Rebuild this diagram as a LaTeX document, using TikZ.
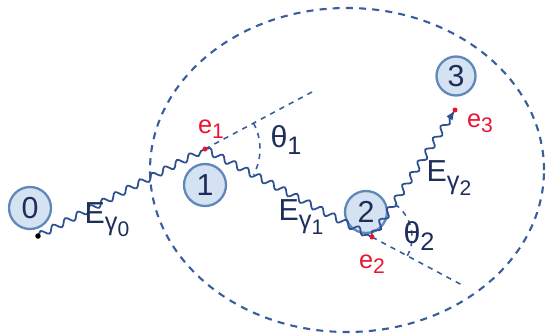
\documentclass[tikz,border=0pt]{standalone}
\usepackage{fontspec}
\setmainfont{Liberation Sans}
\usetikzlibrary{arrows.meta,decorations.pathmorphing}
\definecolor{navy}{RGB}{30,45,90}
\definecolor{wave}{RGB}{45,80,145}
\definecolor{ringline}{RGB}{95,135,185}
\definecolor{ringfill}{RGB}{212,226,241}
\definecolor{dashblue}{RGB}{55,95,155}
\definecolor{hitred}{RGB}{235,20,50}
\tikzset{
  site/.style={circle,draw=ringline,fill=ringfill,line width=1.3pt,minimum size=0.84cm,inner sep=0pt,font=\LARGE,text=navy},
  photon/.style={wave,line width=1pt,decorate,decoration={snake,amplitude=0.065cm,segment length=0.28cm,post length=0.06cm}},
  guide/.style={dashblue,line width=0.9pt,dash pattern=on 3pt off 3pt},
  lbl/.style={text=navy,font=\LARGE},
  hit/.style={text=hitred,font=\Large}
}
\newcommand{\Eg}[1]{E\raisebox{-0.45ex}{\Large γ\raisebox{-0.45ex}{\large #1}}}
\begin{document}
\begin{tikzpicture}[line width=0.9pt,>={Latex[length=2mm]}]
  \useasboundingbox (0,0) rectangle (10.92,6.66);
  % --- sites ---
  \node[site] (n0) at (0.60,2.50) {0};
  \node[site] (n1) at (4.10,2.96) {1};
  \node[site] (n2) at (7.32,2.42) {2};
  \node[site,minimum size=0.78cm] (n3) at (9.12,5.14) {3};
  % --- interaction points ---
  \coordinate (p0) at (0.76,1.94);
  \coordinate (e1) at (4.10,3.68);
  \coordinate (e2) at (7.44,1.92);
  \coordinate (e3) at (9.10,4.46);
  \coordinate (d1) at (6.24,4.82);
  \coordinate (d2) at (9.24,0.96);
  % big dashed ellipse
  \draw[guide,line width=1.2pt,dash pattern=on 4pt off 3.5pt] (6.94,3.26) ellipse (3.94 and 3.24);
  % --- photons ---
  \draw[photon] (p0) -- (e1);
  \draw[photon] (e1) -- (e2);
  \draw[photon,decoration={post length=0.18cm},->] (e2) -- (e3);
  \fill[black] (p0) circle(0.055);
  % --- angles ---
  \draw[guide] (e1) -- (d1);
  \draw[guide] (e2) -- (d2);
  \draw[guide] ([shift=(28:1.1)]e1) arc (28:-28:1.1);
  \draw[guide] ([shift=(55:0.8)]e2) arc (55:-28:0.8);
  \node[lbl] (t1) at (5.72,3.86) {θ\raisebox{-0.45ex}{\Large 1}};
  \node[lbl] (t2) at (8.38,1.94) {θ\raisebox{-0.45ex}{\Large 2}};
  % --- energies ---
  \node[lbl] (g0) at (2.14,2.26) {\Eg{0}};
  \node[lbl] (g1) at (6.02,2.32) {\Eg{1}};
  \node[lbl] (g2) at (8.98,3.10) {\Eg{2}};
  % --- hits ---
  \fill[hitred] (e1) circle(0.05);
  \fill[hitred] (e2) circle(0.05);
  \fill[hitred] (e3) circle(0.05);
  \node[hit] (h1) at (4.22,4.08) {e\raisebox{-0.4ex}{\large 1}};
  \node[hit] (h2) at (7.44,1.38) {e\raisebox{-0.4ex}{\large 2}};
  \node[hit] (h3) at (9.60,4.20) {e\raisebox{-0.4ex}{\large 3}};
\end{tikzpicture}
\end{document}
